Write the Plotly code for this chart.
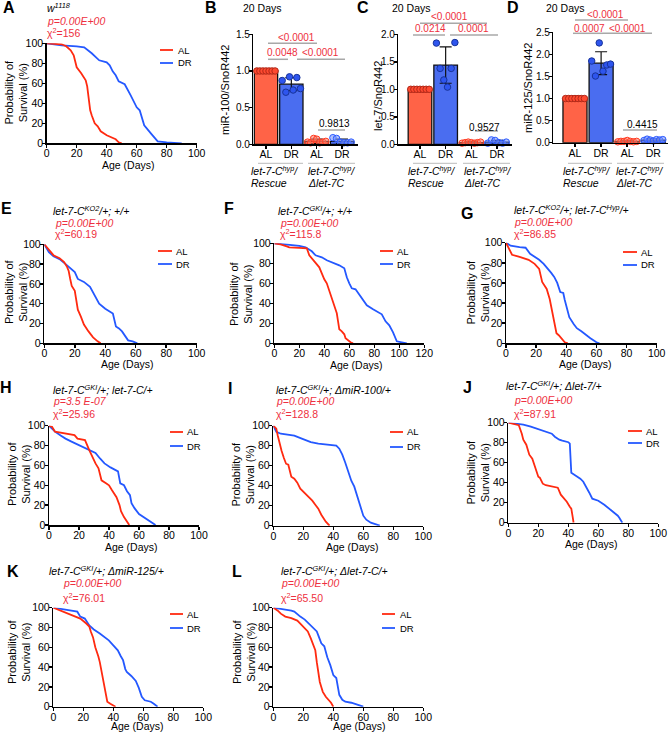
import numpy as np
import plotly.graph_objects as go

# ---------------- DATA ----------------
# Survival curves (age in days, % surviving)
a_al_day = [0, 10, 13, 16, 18, 20, 23, 26, 27, 28, 29, 30, 32, 34, 36, 40, 44, 46, 48, 50]
a_al_pct = [100, 99, 97, 93, 88, 76, 70, 63, 57, 45, 33, 28, 20, 17, 12, 8, 5, 4, 1, 0]
a_dr_day = [0, 10, 20, 25, 30, 35, 40, 42, 44, 46, 48, 52, 56, 60, 62, 65, 70, 74, 80, 90]
a_dr_pct = [100, 98, 97, 96, 90, 83, 81, 78, 72, 68, 62, 59, 48, 36, 33, 18, 9, 2, 1, 0]

e_al_day = [0, 3, 6, 10, 13, 15, 16, 17, 18, 20, 22, 24, 26, 29, 32, 35, 37]
e_al_pct = [100, 95, 89, 86, 82, 77, 73, 65, 58, 53, 34, 27, 19, 12, 6, 2, 0]
e_dr_day = [0, 3, 6, 10, 14, 18, 20, 22, 26, 30, 33, 36, 40, 45, 47, 49, 51, 53, 55, 58, 61]
e_dr_pct = [100, 92, 88, 85, 80, 75, 72, 65, 62, 57, 49, 40, 35, 30, 17, 15, 12, 7, 3, 2, 0]

f_al_day = [0, 5, 10, 12, 20, 26, 28, 30, 33, 36, 38, 40, 42, 44, 46, 48, 50, 51, 52, 54, 56, 57, 59, 61, 63]
f_al_pct = [100, 99, 97, 96, 95.5, 95, 88, 85, 81, 76, 70, 64, 60, 52, 44, 38, 30, 22, 14, 12, 9, 5, 3, 1, 0]
f_dr_day = [0, 10, 20, 25, 28, 30, 33, 38, 42, 48, 52, 56, 58, 60, 62, 65, 68, 71, 74, 79, 84, 86, 89, 92, 95, 97, 98, 102, 106]
f_dr_pct = [100, 99, 97.5, 96, 94, 92, 88, 86, 83, 80, 78, 75, 66, 60, 55, 54, 49, 43, 38, 34, 31, 29, 22, 18, 11, 5, 2, 1, 0]

g_al_day = [0, 1.5, 4, 9, 15, 19, 22, 24, 27, 29, 31, 32, 33.5, 35, 37, 39, 41]
g_al_pct = [100, 96, 88, 86, 83, 79, 74, 61, 54, 44, 30, 20, 10, 8, 4, 1, 0]
g_dr_day = [0, 3, 9, 13, 16, 20, 22, 25, 28, 30, 32, 34, 36, 38, 39, 41, 42, 45, 47, 50, 53, 56, 58, 60, 62]
g_dr_pct = [100, 97, 95.5, 95, 89, 85, 83, 79, 74, 70, 66, 60, 51, 50, 43, 32, 26, 19, 15, 12, 8, 5, 3, 1, 0]

h_al_day = [0, 2, 4, 8, 12, 17, 19, 24, 27, 29, 31, 33, 35, 38, 40, 42, 45, 47, 48, 50, 52, 53.5]
h_al_pct = [100, 99, 94, 93, 92, 90.5, 87, 85.5, 75, 68, 62, 57, 45, 42, 40, 35, 28, 20, 14, 8, 3, 0]
h_dr_day = [0, 4, 8, 11, 15, 20, 26, 31, 34, 37, 41, 46, 47.5, 50, 52, 54, 55, 57, 60, 65, 68, 71]
h_dr_pct = [100, 94, 90, 87, 84, 80.5, 75.5, 72.5, 67, 62, 58, 54, 42, 40, 34, 30, 22, 17, 11, 6, 3, 0]

i_al_day = [0, 2, 3, 4, 5.5, 7, 8.5, 10, 11, 12, 14, 16, 18, 20, 22, 24, 26, 28, 30, 32, 33.5, 35, 37.5]
i_al_pct = [100, 97, 90, 83, 75, 68, 62, 61, 56, 49, 47, 43, 37, 34, 32, 29, 25, 21, 17, 11, 7, 4, 0]
i_dr_day = [0, 2, 5, 10, 14, 19, 22, 25, 30, 42, 44, 46, 48, 50, 52, 54, 56, 58, 60, 62, 65, 68, 71]
i_dr_pct = [100, 94, 92, 91, 90, 87, 85, 83.5, 82, 80, 77, 71, 63, 53, 45, 39, 30, 19, 10, 6, 3, 1.5, 0]

j_al_day = [0, 4, 7, 9, 10, 12, 14, 16, 18, 20, 21, 23, 25, 29, 33, 35, 37, 39, 41, 42, 43, 43.5]
j_al_pct = [100, 99, 97.5, 89, 83, 78, 68, 64, 55, 46, 45, 39, 37.5, 36, 35, 28, 25, 21, 16, 14, 5, 0]
j_dr_day = [0, 6, 10, 15, 21, 26, 29, 31, 34, 36, 40, 41, 42, 45, 48, 50, 52, 54, 56, 60, 64, 68, 71, 73, 74, 76]
j_dr_pct = [100, 99, 98, 96, 93, 91, 89, 86, 83, 82, 80.5, 79, 50, 47, 44, 41, 36, 30, 24, 22, 18, 13, 10, 7, 5, 0]

k_al_day = [0, 5, 10, 15, 18, 22, 24, 25, 26.5, 28, 29, 30, 31, 33, 34.5, 36, 38, 40, 41.5]
k_al_pct = [100, 97, 94, 91, 89, 84, 81, 76, 70, 60, 56, 51, 45, 30, 18, 5, 3, 1, 0]
k_dr_day = [0, 8, 13, 16, 18, 21, 24, 27, 31, 34, 37, 40, 43, 45, 46.5, 48, 49, 52, 55, 57, 59, 61, 65, 67, 69.5]
k_dr_pct = [100, 98, 96.5, 96, 91, 89, 82, 78, 74, 70.5, 67, 62, 57, 51, 47, 38, 35, 31, 26, 19, 10, 6.5, 5, 3, 0]

l_al_day = [0, 3, 5, 8, 12, 16, 18, 21, 23, 25, 27, 28, 29, 30, 31, 32, 33, 35, 37, 38.5, 40]
l_al_pct = [100, 97, 94, 91, 89.5, 87, 84, 79, 76, 69, 62, 57, 45, 33, 25, 20, 15, 10, 7, 4, 0]
l_dr_day = [0, 5, 9, 12, 14, 16, 18, 21, 23, 25, 28, 29, 30, 32, 34, 35, 36, 38, 40, 42, 43, 44, 46, 48, 52, 56, 58, 60]
l_dr_pct = [100, 99, 98.3, 97, 96, 93, 91, 88, 85, 82, 78, 76, 72, 64, 61, 55, 50, 42, 32, 29, 20, 12, 7, 5, 4, 2.5, 1, 0]

# qPCR bar panels (20 days)
bar_cats = ["AL", "DR", "AL", "DR"]
b_mean = [1.00, 0.82, 0.04, 0.04]
b_sd = [0.0, 0.09, 0.03, 0.03]
b_al1 = [1, 1, 1, 1, 1, 1, 1]
b_dr1 = [0.87, 0.71, 0.92, 0.74, 0.91, 0.76]
b_al2 = [0.03, 0.02, 0.08, 0.07, 0.02, 0.03, 0.04]
b_dr2 = [0.09, 0.08, 0.03, 0.02, 0.02, 0.03]

c_mean = [1.00, 1.44, 0.03, 0.04]
c_sd = [0.0, 0.33, 0.02, 0.03]
c_al1 = [1, 1, 1, 1, 1, 1, 1]
c_dr1 = [1.84, 1.38, 1.17, 1.04, 1.38, 1.85]
c_al2 = [0.02, 0.03, 0.04, 0.03, 0.02, 0.03, 0.04]
c_dr2 = [0.02, 0.08, 0.07, 0.03, 0.02, 0.04]

d_mean = [1.00, 1.80, 0.03, 0.06]
d_sd = [0.0, 0.26, 0.02, 0.03]
d_al1 = [1, 1, 1, 1, 1, 1, 1]
d_dr1 = [1.85, 1.51, 2.26, 1.62, 1.76, 1.78]
d_al2 = [0.02, 0.03, 0.03, 0.05, 0.03, 0.02, 0.03]
d_dr2 = [0.05, 0.08, 0.06, 0.04, 0.07, 0.06, 0.07]

# ---------------- STYLE ----------------
W, H = 669, 733
FONT = "Arial, 'Liberation Sans', sans-serif"
RED_LINE = "#FF2A10"
BLUE_LINE = "#2458FF"
RED_TXT = "#EE3040"
BAR_RED = "#FF6347"
BAR_BLUE = "#4A6DF0"
SIG_GRAY = "#A8A8A8"


def px(x):
    return x / W


def py(y):
    return 1 - y / H


fig = go.Figure()
annotations = []
shapes = []
axes = {}


def text(t, x, y, size=10.5, color="black", xanchor="left", angle=0):
    annotations.append(dict(text=t, x=px(x), y=py(y), xref="paper", yref="paper",
                            showarrow=False, xanchor=xanchor, yanchor="middle",
                            textangle=angle, borderpad=0,
                            font=dict(family=FONT, size=size, color=color)))


def hline(x0, x1, y, color, width=1.5):
    shapes.append(dict(type="line", xref="paper", yref="paper", x0=px(x0), x1=px(x1),
                       y0=py(y), y1=py(y), line=dict(color=color, width=width)))


def axis_common():
    return dict(showline=True, linecolor="black", linewidth=1.5, ticks="outside",
                ticklen=3, tickwidth=1.5, tickcolor="black", showgrid=False, zeroline=False,
                automargin=False, ticklabelstandoff=-3,
                tickfont=dict(family=FONT, size=10.5, color="black"), fixedrange=True)


surv_panels = [
    dict(L="A", lp=(9, 7), dx=(46.7, 196.7), dy=(43.3, 143.3), xmax=100,
         geno="<i>w<sup>1118</sup></i>", gp=(46, 7), pp=(46, 21), p="p=0.00E+00", chi="156", cp=(46, 33),
         leg=(160, 173, 177, 50, 63), xl=(128, 164.5), yl=(15.5, 92),
         d=(a_al_day, a_al_pct, a_dr_day, a_dr_pct)),
    dict(L="E", lp=(6, 208), dx=(44.3, 196.7), dy=(244.3, 343.3), xmax=100,
         geno="<i>let-7-C<sup>KO2</sup>/+; +/+</i>", gp=(52, 211), pp=(54, 222.5), p="p=0.00E+00", chi="60.19", cp=(54, 234),
         leg=(158, 172, 175, 251, 264), xl=(127.5, 364.5), yl=(16, 292),
         d=(e_al_day, e_al_pct, e_dr_day, e_dr_pct)),
    dict(L="F", lp=(229, 208), dx=(274.3, 424.3), dy=(243.3, 343.3), xmax=120,
         geno="<i>let-7-C<sup>GKI</sup>/+; +/+</i>", gp=(277, 211), pp=(279, 222.5), p="p=0.00E+00", chi="115.8", cp=(279, 234),
         leg=(380, 393, 396, 251, 264), xl=(356.7, 365), yl=(241, 294),
         d=(f_al_day, f_al_pct, f_dr_day, f_dr_pct)),
    dict(L="G", lp=(467, 213), dx=(506, 656.7), dy=(242.7, 343.3), xmax=100,
         geno="<i>let-7-C<sup>KO2</sup>/+; let-7-C<sup>Hyp</sup>/+</i>", gp=(513, 209.5), pp=(513, 221.5), p="p=0.00E+00", chi="86.85", cp=(513, 233.5),
         leg=(623, 637, 640, 252, 265), xl=(585, 364.5), yl=(477.5, 292),
         d=(g_al_day, g_al_pct, g_dr_day, g_dr_pct)),
    dict(L="H", lp=(6, 387), dx=(49, 199), dy=(425.7, 525), xmax=100,
         geno="<i>let-7-C<sup>GKI</sup>/+; let-7-C/+</i>", gp=(52, 389), pp=(52, 401), p="p=3.5 E-07", chi="25.96", cp=(52, 413),
         leg=(170, 183, 186, 432, 446), xl=(131, 547), yl=(19, 474),
         d=(h_al_day, h_al_pct, h_dr_day, h_dr_pct)),
    dict(L="I", lp=(230, 388), dx=(273.3, 423.3), dy=(425.7, 525.7), xmax=100,
         geno="<i>let-7-C<sup>GKI</sup>/+; ΔmiR-100/+</i>", gp=(275, 389), pp=(275, 401), p="p=0.00E+00", chi="128.8", cp=(275, 413),
         leg=(390, 403, 406, 432, 447), xl=(352, 547), yl=(242.5, 474),
         d=(i_al_day, i_al_pct, i_dr_day, i_dr_pct)),
    dict(L="J", lp=(467, 387), dx=(508.3, 658.3), dy=(422.7, 522.7), xmax=100,
         geno="<i>let-7-C<sup>GKI</sup>/+; Δlet-7/+</i>", gp=(505, 385), pp=(512.7, 400), p="p=0.00E+00", chi="87.91", cp=(512.7, 413),
         leg=(628, 642, 645, 431, 443), xl=(591, 544), yl=(477.5, 472),
         d=(j_al_day, j_al_pct, j_dr_day, j_dr_pct)),
    dict(L="K", lp=(12.5, 571), dx=(53.3, 203.3), dy=(607.7, 706.7), xmax=100,
         geno="<i>let-7-C<sup>GKI</sup>/+; ΔmiR-125/+</i>", gp=(48, 570), pp=(62, 583), p="p=0.00E+00", chi="76.01", cp=(62, 597),
         leg=(170, 183, 186, 614, 628), xl=(137, 726), yl=(19, 652),
         d=(k_al_day, k_al_pct, k_dr_day, k_dr_pct)),
    dict(L="L", lp=(237, 571), dx=(273.3, 423.3), dy=(607.7, 706.7), xmax=100,
         geno="<i>let-7-C<sup>GKI</sup>/+; Δlet-7-C/+</i>", gp=(280, 570), pp=(280, 583), p="p=0.00E+00", chi="65.50", cp=(280, 597),
         leg=(382, 395, 399, 614, 628), xl=(359, 726), yl=(244, 652),
         d=(l_al_day, l_al_pct, l_dr_day, l_dr_pct)),
]

bar_panels = [
    dict(L="B", lp=(211, 8), dx=(253.3, 358), dy=(34.3, 144.3), xr=(-0.5, 3.63), ymax=1.5,
         mean=b_mean, sd=b_sd, pts=[b_al1, b_dr1, b_al2, b_dr2], ylab="miR-100/SnoR442", yl=(225, 90),
         days=(262.5, 8), g=(250, 307), gl=((258, 303), (308, 355)),
         sig=[("<0.0001", RED_TXT, 296, 38, 268, 317, 43.3),
              ("0.0048", RED_TXT, 282, 53, 268, 288, 59.3),
              ("<0.0001", RED_TXT, 320, 53, 297, 345, 59.3),
              ("0.9813", "black", 334, 123, 318, 345, 130)]),
    dict(L="C", lp=(363, 8), dx=(398.3, 512), dy=(34.3, 144.3), xr=(-0.845, 3.585), ymax=2.0,
         mean=c_mean, sd=c_sd, pts=[c_al1, c_dr1, c_al2, c_dr2], ylab="let-7/SnoR442", yl=(378, 96),
         days=(411.7, 8), g=(406.7, 463.3), gl=((413, 457), (463, 510)),
         sig=[("<0.0001", RED_TXT, 449, 17, 420, 487, 23.3),
              ("0.0214", RED_TXT, 430, 29, 413, 445, 35),
              ("0.0001", RED_TXT, 473, 29, 450, 498, 35),
              ("0.9527", "black", 484, 127, 475, 498, 131)]),
    dict(L="D", lp=(513, 8), dx=(553.3, 668), dy=(32.3, 142.7), xr=(-0.83, 3.56), ymax=2.5,
         mean=d_mean, sd=d_sd, pts=[d_al1, d_dr1, d_al2, d_dr2], ylab="miR-125/SnoR442", yl=(528, 88),
         days=(565, 8), g=(561.7, 615), gl=((568, 612), (617, 664)),
         sig=[("<0.0001", RED_TXT, 605, 15, 575, 628, 20),
              ("0.0007", RED_TXT, 589, 29, 573, 603, 33.3),
              ("<0.0001", RED_TXT, 627, 29, 603, 652, 33.3),
              ("0.4415", "black", 642, 124, 623, 657, 130)]),
]

k = 0
# ---------- survival panels ----------
for p in surv_panels:
    k += 1
    xid = "x" if k == 1 else f"x{k}"
    yid = "y" if k == 1 else f"y{k}"
    xa = axis_common()
    xa.update(domain=[px(p["dx"][0]), px(p["dx"][1])], range=[0, p["xmax"]],
              tickvals=list(range(0, p["xmax"] + 1, 20)), anchor=yid)
    ya = axis_common()
    ya.update(domain=[py(p["dy"][1]), py(p["dy"][0])], range=[0, 100],
              tickvals=list(range(0, 101, 20)), anchor=xid)
    axes["xaxis" if k == 1 else f"xaxis{k}"] = xa
    axes["yaxis" if k == 1 else f"yaxis{k}"] = ya
    al_d, al_p, dr_d, dr_p = p["d"]
    fig.add_trace(go.Scatter(x=dr_d, y=dr_p, mode="lines", line=dict(color=BLUE_LINE, width=1.8),
                             xaxis=xid, yaxis=yid, showlegend=False, name="DR"))
    fig.add_trace(go.Scatter(x=al_d, y=al_p, mode="lines", line=dict(color=RED_LINE, width=1.8),
                             xaxis=xid, yaxis=yid, showlegend=False, name="AL"))
    # texts
    text("<b>" + p["L"] + "</b>", p["lp"][0], p["lp"][1], size=16, xanchor="center")
    text(p["geno"], p["gp"][0], p["gp"][1], size=10.5)
    text("<i>" + p["p"] + "</i>", p["pp"][0], p["pp"][1], size=10.5, color=RED_TXT)
    text("χ<sup>2</sup>=" + p["chi"], p["cp"][0], p["cp"][1], size=10.5, color=RED_TXT)
    lx0, lx1, ltx, ly1, ly2 = p["leg"]
    hline(lx0, lx1, ly1, RED_LINE, 1.8)
    hline(lx0, lx1, ly2, BLUE_LINE, 1.8)
    text("AL", ltx, ly1, size=9.5)
    text("DR", ltx, ly2, size=9.5)
    text("Age (Days)", p["xl"][0], p["xl"][1], size=10.5, xanchor="center")
    text("Probability of<br>Survival (%)", p["yl"][0], p["yl"][1], size=11, xanchor="center", angle=-90)

# ---------- bar panels ----------
for p in bar_panels:
    k += 1
    xid, yid = f"x{k}", f"y{k}"
    xa = axis_common()
    xa.update(domain=[px(p["dx"][0]), px(p["dx"][1])], range=list(p["xr"]),
              tickvals=[0, 1, 2, 3], ticktext=bar_cats, anchor=yid,
              tickfont=dict(family=FONT, size=10.5, color="black"))
    ya = axis_common()
    ya.update(domain=[py(p["dy"][1]), py(p["dy"][0])], range=[0, p["ymax"]],
              tickvals=list(np.arange(0, p["ymax"] + 0.01, 0.5)), tickformat=".1f", anchor=xid,
              tickfont=dict(family=FONT, size=10, color="black"))
    axes[f"xaxis{k}"] = xa
    axes[f"yaxis{k}"] = ya
    fig.add_trace(go.Bar(x=[0, 1, 2, 3], y=p["mean"], width=0.92,
                         marker=dict(color=[BAR_RED, BAR_BLUE, BAR_RED, BAR_BLUE],
                                     line=dict(color="#111111", width=1.3)),
                         error_y=dict(type="data", array=p["sd"], visible=True, color="#111111",
                                      thickness=1.2, width=6),
                         xaxis=xid, yaxis=yid, showlegend=False))
    styles = [("#FF4A30", "#B02818"), ("#2E55EE", "#18339A"),
              ("rgba(255,120,100,0.55)", "#FF3A20"), ("rgba(110,140,255,0.55)", "#2D5BFF")]
    for gi, vals in enumerate(p["pts"]):
        n = len(vals)
        offs = np.linspace(-0.36, 0.36, n)
        fill, edge = styles[gi]
        fig.add_trace(go.Scatter(x=gi + offs, y=vals, mode="markers", cliponaxis=False,
                                 marker=dict(size=6.5, color=fill, line=dict(color=edge, width=1)),
                                 xaxis=xid, yaxis=yid, showlegend=False))
    text("<b>" + p["L"] + "</b>", p["lp"][0], p["lp"][1], size=16, xanchor="center")
    text("20 Days", p["days"][0], p["days"][1], size=10.5, xanchor="center")
    text(p["ylab"], p["yl"][0], p["yl"][1], size=11, xanchor="center", angle=-90)
    for (t, col, tx, ty, l0, l1, ly) in p["sig"]:
        hline(l0, l1, ly, SIG_GRAY, 1.5)
        text(t, tx, ty, size=10, color=col, xanchor="center")
    for (g0, g1) in p["gl"]:
        hline(g0, g1, 163.3, "#BBBBBB", 1)
    text("<i>let-7-C<sup>hyp</sup>/</i>", p["g"][0], 170, size=10.5)
    text("<i>Rescue</i>", p["g"][0], 183, size=10.5)
    text("<i>let-7-C<sup>hyp</sup>/</i>", p["g"][1], 170, size=10.5)
    text("<i>Δlet-7C</i>", p["g"][1], 183, size=10.5)

fig.update_layout(width=W, height=H, margin=dict(l=0, r=0, t=0, b=0, autoexpand=False),
                  paper_bgcolor="white", plot_bgcolor="white", showlegend=False,
                  hovermode=False, annotations=annotations, shapes=shapes,
                  font=dict(family=FONT, color="black"), bargap=0, **axes)

fig.write_html("out.html", config={"displayModeBar": False, "staticPlot": True},
               post_script="document.body.style.margin='0';document.body.style.padding='0';")
